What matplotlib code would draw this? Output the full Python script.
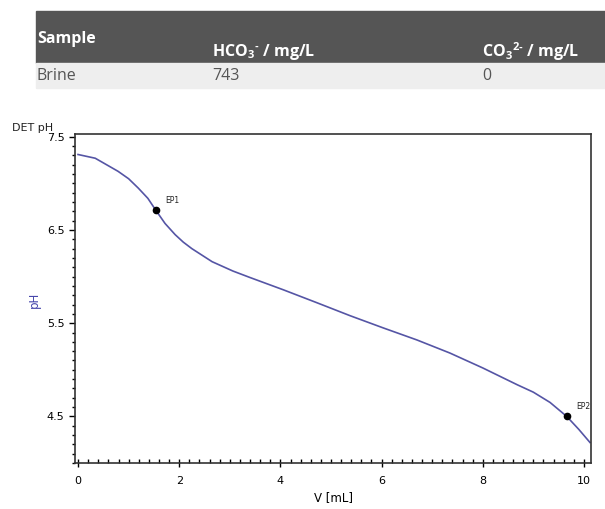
import matplotlib
matplotlib.use("Agg")
import matplotlib.pyplot as plt
from matplotlib.patches import Rectangle
from matplotlib.ticker import MultipleLocator, FixedLocator

# ---- data ----
volume_ml = [0.0, 0.34, 0.79, 1.00, 1.19, 1.38, 1.54, 1.72, 1.92, 2.08, 2.25,
             2.65, 3.06, 3.40, 4.05, 4.72, 5.38, 6.03, 6.70, 7.35, 8.00, 8.68,
             9.00, 9.33, 9.66, 9.90, 10.12]
ph_values = [7.31, 7.27, 7.13, 7.05, 6.95, 6.84, 6.71, 6.57, 6.45, 6.37, 6.30,
             6.16, 6.06, 5.99, 5.86, 5.72, 5.58, 5.45, 5.32, 5.18, 5.02, 4.84,
             4.76, 4.65, 4.50, 4.36, 4.22]
ep_labels = ["EP1", "EP2"]
ep_volume = [1.54, 9.66]
ep_ph = [6.71, 4.50]

table_header = ["Sample", "HCO$_\\mathbf{3}$$^\\mathbf{\u2010}$ / mg/L",
                "CO$_\\mathbf{3}$$^\\mathbf{2\u2010}$ / mg/L"]
table_row = ["Brine", "743", "0"]

x_ticks = [0, 2, 4, 6, 8, 10]
y_ticks = [4.5, 5.5, 6.5, 7.5]

plt.rcParams['mathtext.fontset'] = 'custom'
plt.rcParams['mathtext.rm'] = 'Open Sans'
plt.rcParams['mathtext.bf'] = 'Open Sans:bold'

W, H = 605, 509
fig = plt.figure(figsize=(W / 100, H / 100), dpi=100)


def fx(px):
    return px / W


def fy(py):
    return 1 - py / H


# ---- table ----
fig.patches.append(Rectangle((fx(36), fy(63)), fx(605) - fx(36), fy(11) - fy(63),
                             transform=fig.transFigure, color="#555555", zorder=0))
fig.patches.append(Rectangle((fx(36), fy(88)), fx(605) - fx(36), fy(63) - fy(88),
                             transform=fig.transFigure, color="#eeeeee", zorder=0))
col_x = [37, 212, 482]
hdr_y = [39, 52, 52]
for cx, cy, t in zip(col_x, hdr_y, table_header):
    fig.text(fx(cx), fy(cy), t, color="white", fontsize=11.5, fontweight="bold",
             family="Open Sans", va="center", ha="left")
for cx, t in zip(col_x, table_row):
    fig.text(fx(cx), fy(76), t, color="#555555", fontsize=11.5,
             family="Open Sans", va="center", ha="left")

# ---- chart ----
ax = fig.add_axes([fx(75), fy(463), fx(591) - fx(75), fy(134) - fy(463)])
line_color = "#5555a5"
ax.plot(volume_ml, ph_values, color=line_color, lw=1.2)
ax.plot(ep_volume, ep_ph, "o", color="black", ms=4.5)
for lab, xv, yv in zip(ep_labels, ep_volume, ep_ph):
    ax.annotate(lab, (xv, yv), xytext=(7, 5), textcoords="offset points",
                fontsize=5.5, color="#222222")

ax.set_xlim(-0.06, 10.14)
ax.set_ylim(4.0, 7.53)
ax.xaxis.set_major_locator(FixedLocator(x_ticks))
ax.xaxis.set_minor_locator(MultipleLocator(0.2))
ax.yaxis.set_major_locator(FixedLocator(y_ticks))
ax.yaxis.set_minor_locator(MultipleLocator(0.1))
ax.set_xticklabels([str(v) for v in x_ticks])
ax.set_yticklabels([str(v) for v in y_ticks])

ax.tick_params(axis="x", which="major", direction="inout", length=6, width=1,
               labelsize=8, pad=6)
ax.tick_params(axis="x", which="minor", direction="in", length=3, width=1)
ax.tick_params(axis="y", which="major", direction="out", length=4, width=1,
               labelsize=8)
ax.tick_params(axis="y", which="minor", direction="out", length=2, width=1)
for s in ax.spines.values():
    s.set_linewidth(1.2)
    s.set_color("#333333")

ax.set_xlabel("V [mL]", fontsize=8.5, labelpad=4)
fig.text(fx(34), fy(300), "pH", rotation=90, color="#4444aa", fontsize=8.5,
         va="center", ha="center")
fig.text(fx(12), fy(128), "DET pH", color="#222222", fontsize=8, va="center", ha="left")

fig.savefig("out.png", dpi=100)
